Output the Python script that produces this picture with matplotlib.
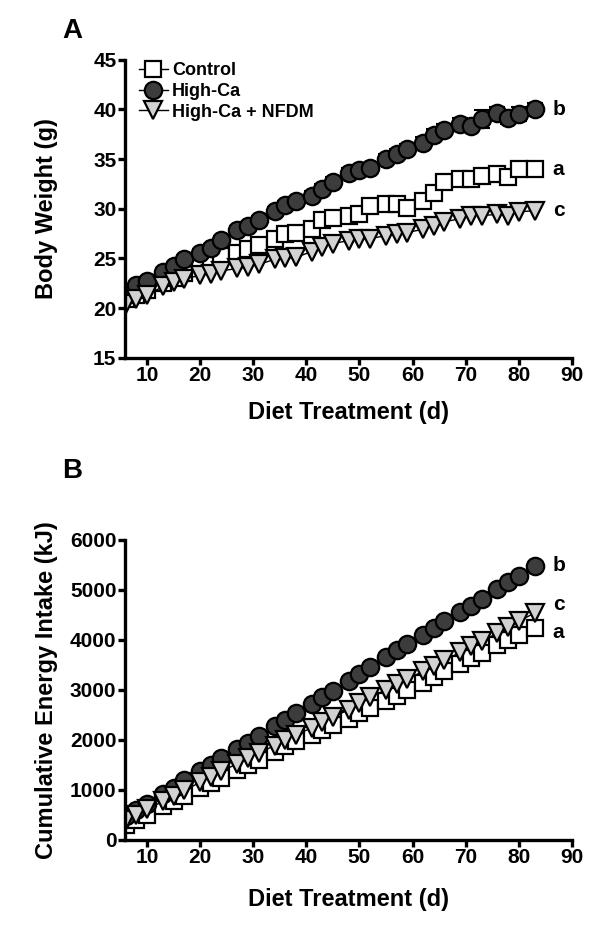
import matplotlib
matplotlib.use("Agg")
import matplotlib.pyplot as plt

plt.rcParams['font.family'] = ['Liberation Sans', 'DejaVu Sans']
plt.rcParams['font.weight'] = 'bold'

days = [6, 8, 10, 13, 15, 17, 20, 22, 24, 27, 29, 31, 34, 36, 38, 41, 43, 45,
        48, 50, 52, 55, 57, 59, 62, 64, 66, 69, 71, 73, 76, 78, 80, 83]

# body weight (g)
bw_control = [20.9, 21.3, 21.8, 22.5, 23.0, 23.5, 24.5, 24.9, 25.2, 25.6, 26.0, 26.4,
              26.95, 27.45, 27.6, 27.95, 28.9, 29.1, 29.3, 29.45, 30.3, 30.45, 30.45,
              30.05, 30.75, 31.6, 32.7, 32.95, 32.95, 33.3, 33.45, 33.2, 33.95, 33.95]
bw_highca = [21.6, 22.3, 22.7, 23.6, 24.2, 24.9, 25.6, 26.1, 26.9, 27.9, 28.3, 28.85,
             29.8, 30.4, 30.8, 31.3, 32.0, 32.7, 33.6, 33.9, 34.1, 35.0, 35.5, 36.0,
             36.6, 37.4, 37.9, 38.5, 38.3, 39.0, 39.6, 39.1, 39.5, 40.0]
bw_highca_sem = [0.3, 0.3, 0.3, 0.3, 0.3, 0.3, 0.4, 0.4, 0.4, 0.4, 0.4, 0.4,
                 0.4, 0.4, 0.4, 0.5, 0.5, 0.5, 0.5, 0.5, 0.5, 0.5, 0.5, 0.5,
                 0.6, 0.6, 0.6, 0.6, 0.6, 0.9, 0.6, 0.6, 0.7, 0.6]
bw_nfdm = [20.4, 20.95, 21.3, 22.2, 22.6, 22.95, 23.3, 23.45, 23.75, 24.0, 24.1, 24.4,
           24.9, 25.0, 25.1, 25.7, 26.2, 26.5, 26.8, 26.95, 27.0, 27.3, 27.5, 27.6,
           27.95, 28.3, 28.7, 29.0, 29.3, 29.3, 29.45, 29.3, 29.7, 29.8]

# cumulative energy intake (kJ)
ei_control = [300, 400, 500, 667, 767, 867, 1033, 1133, 1233, 1400, 1500, 1600,
              1747, 1867, 1967, 2100, 2200, 2290, 2420, 2533, 2633, 2767, 2880, 2987,
              3133, 3253, 3367, 3520, 3633, 3733, 3900, 4000, 4100, 4233]
ei_highca = [466, 586, 720, 920, 1033, 1187, 1367, 1500, 1633, 1813, 1933, 2067,
             2267, 2400, 2533, 2720, 2853, 2980, 3167, 3313, 3453, 3653, 3787, 3920,
             4100, 4233, 4367, 4553, 4680, 4813, 5013, 5147, 5280, 5480]
ei_nfdm = [400, 500, 613, 767, 867, 987, 1147, 1253, 1367, 1520, 1633, 1733,
           1880, 2000, 2100, 2233, 2347, 2450, 2600, 2733, 2847, 3000, 3120, 3213,
           3367, 3480, 3587, 3747, 3867, 3967, 4133, 4253, 4367, 4533]

labels = ['Control', 'High-Ca', 'High-Ca + NFDM']
letters_bw = ['a', 'b', 'c']
letters_ei = ['a', 'b', 'c']

styles = [dict(marker='s', mfc='white', ms=11.5),
          dict(marker='o', mfc='#3c3c3c', ms=12.5),
          dict(marker='v', mfc='#d2d2d2', ms=12.5)]


def style_axes(ax, ylim, yticks, ylabel, xlab_y):
    for side in ['top', 'right']:
        ax.spines[side].set_visible(False)
    for side in ['left', 'bottom']:
        ax.spines[side].set_linewidth(2.4)
    ax.set_xlim(5.8, 90)
    ax.set_ylim(*ylim)
    ax.set_xticks(range(10, 91, 10))
    ax.set_yticks(yticks)
    ax.tick_params(width=2.4, length=5, labelsize=15, pad=1)
    for t in ax.get_xticklabels() + ax.get_yticklabels():
        t.set_fontweight('bold')
    ax.set_xlabel('Diet Treatment (d)', fontsize=17, fontweight='bold')
    ax.set_ylabel(ylabel, fontsize=17, fontweight='bold')
    ax.xaxis.set_label_coords(0.5, xlab_y)
    ax.yaxis.set_label_coords(-0.15, 0.5)


fig = plt.figure(figsize=(6, 9.32), dpi=100)
ax1 = fig.add_axes([0.208, 0.616, 0.745, 0.32])
ax2 = fig.add_axes([0.208, 0.099, 0.745, 0.322])

# panel A
ax1.errorbar(days, bw_highca, yerr=bw_highca_sem, fmt='none', ecolor='black',
             elinewidth=1.5, capsize=6, capthick=1.5, zorder=1)
for vals, lab, st in zip([bw_control, bw_highca, bw_nfdm], labels, styles):
    ax1.plot(days, vals, color='black', lw=1, mec='black', mew=1.6, label=lab,
             zorder=2, **st)
for vals, let in zip([bw_control, bw_highca, bw_nfdm], letters_bw):
    ax1.annotate(let, (days[-1], vals[-1]), xytext=(13, 0), textcoords='offset points',
                 fontsize=15, fontweight='bold', va='center', ha='left')
style_axes(ax1, (15, 45), range(15, 46, 5), 'Body Weight (g)', -0.145)
ax1.legend(loc='upper left', bbox_to_anchor=(-0.005, 1.045), frameon=False,
           handlelength=1.6, handletextpad=0.25, labelspacing=0.2,
           prop={'weight': 'bold', 'size': 13})

# panel B
for vals, st in zip([ei_control, ei_highca, ei_nfdm], styles):
    ax2.plot(days, vals, color='black', lw=1, mec='black', mew=1.6, zorder=2, **st)
offs = [(13, -3), (13, 0), (13, 6)]
for vals, let, off in zip([ei_control, ei_highca, ei_nfdm], letters_ei, offs):
    ax2.annotate(let, (days[-1], vals[-1]), xytext=off, textcoords='offset points',
                 fontsize=15, fontweight='bold', va='center', ha='left')
style_axes(ax2, (0, 6000), range(0, 6001, 1000), 'Cumulative Energy Intake (kJ)', -0.16)

fig.text(0.12, 0.967, 'A', fontsize=20, fontweight='bold', ha='center', va='center')
fig.text(0.12, 0.495, 'B', fontsize=20, fontweight='bold', ha='center', va='center')

fig.savefig('out.png', dpi=100)
